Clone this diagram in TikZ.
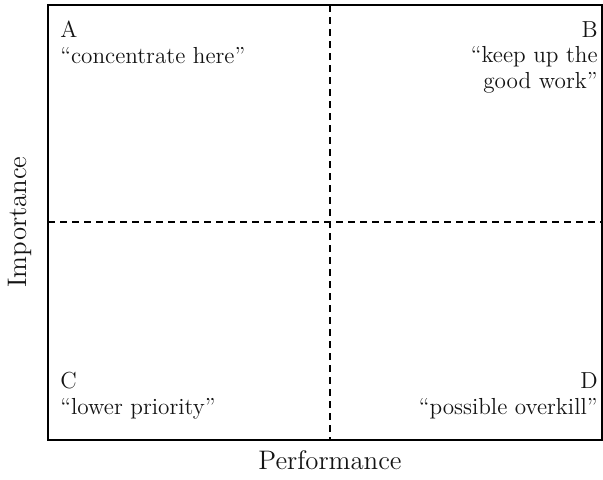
\documentclass[tikz,border=0pt]{standalone}
\usepackage{amsmath}
\usepackage{xcolor}
\usetikzlibrary{positioning,calc}
\definecolor{DarkText}{RGB}{20,20,20}
\tikzset{
  frame/.style={draw=black,line width=1pt},
  split/.style={draw=black,line width=0.7pt,dash pattern=on 3.5pt off 2.5pt},
  qtext/.style={font=\fontsize{11.6}{12.6}\selectfont,color=DarkText,inner sep=0pt},
  axislabel/.style={font=\fontsize{13.4}{15}\selectfont,color=DarkText,inner sep=0pt},
}

\begin{document}
\begin{tikzpicture}[x=0.5pt,y=-0.5pt]
    % Page size
    \useasboundingbox (0,0) rectangle (603,479);

    % Corner points of the grid
    \coordinate (tl) at (48,5);
    \coordinate (br) at (602,440);
    \coordinate (mt) at (330,5);
    \coordinate (mb) at (330,440);
    \coordinate (ml) at (48,222);
    \coordinate (mr) at (602,222);

    % Quadrant dividers
    \draw[split] (mt) -- (mb);
    \draw[split] (ml) -- (mr);
    \draw[frame] (tl) rectangle (br);

    % Quadrant texts (base = last line)
    \node[qtext, anchor=base west, align=left] (qa) at (60,63) {A\\``concentrate here''};
    \node[qtext, anchor=base east, align=right] (qb) at (598,88) {B\\``keep up the\\good work''};
    \node[qtext, anchor=base west, align=left] (qc) at (60,414) {C\\``lower priority''};
    \node[qtext, anchor=base east, align=right] (qd) at (598,414) {D\\``possible overkill''};

    % Axis labels
    \node[axislabel, anchor=base] (perf) at (330,469) {Performance};
    \node[axislabel, rotate=90] (imp) at (20,222) {Importance};
\end{tikzpicture}
\end{document}
